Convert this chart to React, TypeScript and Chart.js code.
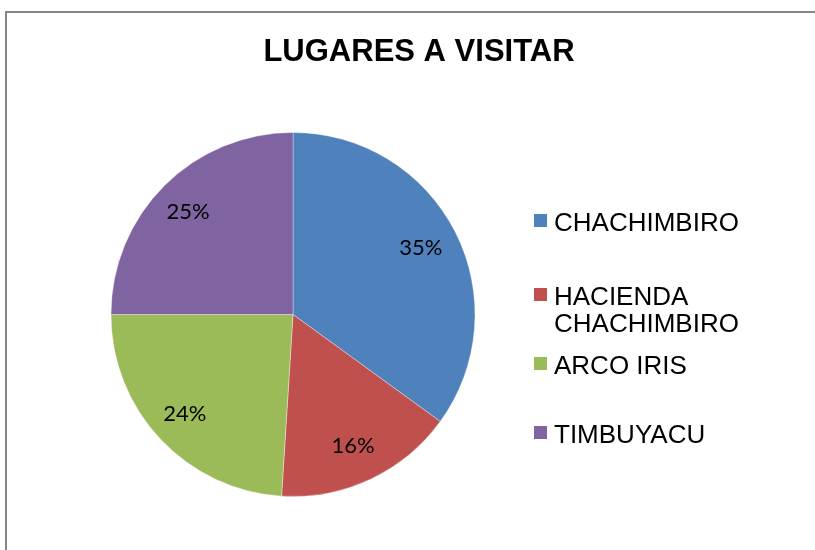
import React, { useEffect, useRef } from "react";
import { Chart, registerables } from "chart.js";

Chart.register(...registerables);

const TITLE = "LUGARES A VISITAR";
const categories = ["CHACHIMBIRO", "HACIENDA CHACHIMBIRO", "ARCO IRIS", "TIMBUYACU"];
const values = [35, 16, 24, 25];
const colors = ["#4F81BD", "#C0504D", "#9BBB59", "#8064A2"];

const W = 815;
const H = 550;

const framePlugin = {
  id: "frame",
  beforeDraw(chart: any) {
    const ctx = chart.ctx;
    ctx.save();
    ctx.fillStyle = "#ffffff";
    ctx.fillRect(0, 0, W, H);
    ctx.strokeStyle = "#868686";
    ctx.lineWidth = 2;
    ctx.beginPath();
    ctx.moveTo(6, H + 10);
    ctx.lineTo(6, 12);
    ctx.lineTo(W + 10, 12);
    ctx.stroke();
    ctx.restore();
  },
  afterDraw(chart: any) {
    const ctx = chart.ctx;
    ctx.save();
    // title
    ctx.fillStyle = "#000000";
    ctx.font = 'bold 31px "Liberation Sans", Arial, sans-serif';
    ctx.textAlign = "center";
    ctx.textBaseline = "alphabetic";
    ctx.fillText(TITLE, 419, 61);

    // percentage labels
    const meta = chart.getDatasetMeta(0);
    const total = values.reduce((a, b) => a + b, 0);
    ctx.font = '22px Lato, "Open Sans", sans-serif';
    ctx.textBaseline = "middle";
    meta.data.forEach((arc: any, i: number) => {
      const p = arc.getProps(["x", "y", "startAngle", "endAngle", "outerRadius"], true);
      const mid = (p.startAngle + p.endAngle) / 2;
      const r = p.outerRadius * 0.8;
      const x = p.x + Math.cos(mid) * r;
      const y = p.y + Math.sin(mid) * r;
      const pct = Math.round((values[i] / total) * 100) + "%";
      ctx.fillText(pct, x - 2, y);
    });

    // legend
    ctx.font = '26px "Liberation Sans", Arial, sans-serif';
    ctx.textAlign = "left";
    ctx.textBaseline = "alphabetic";
    const baselines = [231, 305, 374, 443];
    const lineH = 27;
    const textX = 554;
    const maxW = W - textX - 4;
    categories.forEach((label, i) => {
      const words = label.split(" ");
      const lines: string[] = [];
      let cur = "";
      words.forEach((w) => {
        const test = cur ? cur + " " + w : w;
        if (cur && ctx.measureText(test).width > maxW) {
          lines.push(cur);
          cur = w;
        } else cur = test;
      });
      if (cur) lines.push(cur);
      const b = baselines[i];
      ctx.fillStyle = colors[i];
      ctx.fillRect(534, b - 17, 13, 13);
      ctx.fillStyle = "#000000";
      lines.forEach((ln, j) => ctx.fillText(ln, textX, b + j * lineH));
    });
    ctx.restore();
  },
};

export default function App() {
  const ref = useRef<HTMLCanvasElement | null>(null);
  useEffect(() => {
    if (!ref.current) return;
    const chart = new Chart(ref.current, {
      type: "pie",
      data: {
        labels: categories,
        datasets: [
          {
            data: values,
            backgroundColor: colors,
            borderColor: "rgba(255,255,255,0.35)",
            borderWidth: 1,
          },
        ],
      },
      options: {
        responsive: false,
        animation: false,
        layout: {
          padding: { left: 110.5, right: W - 475.5, top: 132, bottom: H - 497 },
        },
        plugins: {
          legend: { display: false },
          title: { display: false },
          tooltip: { enabled: false },
        },
      },
      plugins: [framePlugin],
    });
    return () => chart.destroy();
  }, []);
  return (
    <div style={{ position: "absolute", left: 0, top: 0, width: W, height: H }}>
      <canvas ref={ref} width={W} height={H} style={{ display: "block", width: W, height: H }} />
    </div>
  );
}
